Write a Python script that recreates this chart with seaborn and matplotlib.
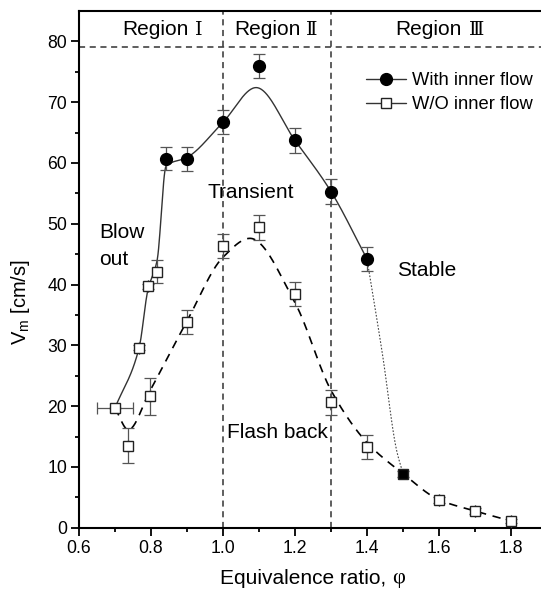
import numpy as np
import pandas as pd
import matplotlib
matplotlib.use("Agg")
import matplotlib.pyplot as plt
from matplotlib.lines import Line2D
import seaborn as sns

# ---------------- data ----------------
# filled circles: with inner flow
with_phi = [0.842, 0.90, 1.00, 1.10, 1.20, 1.30, 1.40]
with_vm = [60.7, 60.7, 66.7, 76.0, 63.7, 55.3, 44.2]
with_err = [1.9, 2.0, 2.0, 2.0, 2.0, 2.0, 1.9]

# open squares: without inner flow
wo_phi = [0.70, 0.737, 0.767, 0.791, 0.797, 0.817, 0.90, 1.00, 1.10, 1.20, 1.30, 1.40, 1.60, 1.70, 1.80]
wo_vm = [19.7, 13.5, 29.6, 39.7, 21.6, 42.1, 33.8, 46.3, 49.4, 38.5, 20.6, 13.3, 4.55, 2.75, 1.1]
wo_err = [0.0, 2.9, 0.4, 0.4, 3.0, 1.9, 2.0, 2.0, 2.0, 2.0, 2.0, 2.0, 0.5, 0.5, 0.3]
wo_xerr = [0.05, 0, 0, 0, 0, 0, 0, 0, 0, 0, 0, 0, 0, 0, 0]

# filled square (both)
both_phi = [1.50]
both_vm = [8.9]
both_err = [0.5]

# smooth fitted curves (knots)
fit_with_phi = [0.70, 0.767, 0.791, 0.817, 0.842, 0.90, 1.00, 1.092, 1.20, 1.30, 1.40]
fit_with_vm = [19.7, 29.6, 39.0, 44.0, 59.5, 60.9, 66.7, 72.4, 63.7, 55.3, 44.2]
fit_dot_phi = [1.40, 1.443, 1.482, 1.50]
fit_dot_vm = [44.2, 28.5, 12.8, 8.9]
fit_wo_phi = [0.70, 0.737, 0.797, 0.90, 1.00, 1.075, 1.20, 1.30, 1.40, 1.50, 1.60, 1.70, 1.80]
fit_wo_vm = [19.7, 16.1, 22.5, 34.0, 44.5, 47.6, 37.0, 22.6, 14.0, 8.9, 4.6, 2.75, 1.1]

region_names = ["Region", "Region", "Region"]
region_nums = ["\u2160", "\u2161", "\u2162"]
boundaries = [1.0, 1.3]
top_line = 79.0
x_ticks = [0.6, 0.8, 1.0, 1.2, 1.4, 1.6, 1.8]
y_ticks = [0, 10, 20, 30, 40, 50, 60, 70, 80]


def pchip(xk, yk, xs):
    xk = np.asarray(xk, float); yk = np.asarray(yk, float)
    h = np.diff(xk); d = np.diff(yk) / h
    n = len(xk); m = np.zeros(n)
    for k in range(1, n - 1):
        if d[k - 1] * d[k] > 0:
            w1 = 2 * h[k] + h[k - 1]; w2 = h[k] + 2 * h[k - 1]
            m[k] = (w1 + w2) / (w1 / d[k - 1] + w2 / d[k])
    m[0] = d[0]; m[-1] = d[-1]
    idx = np.clip(np.searchsorted(xk, xs) - 1, 0, n - 2)
    t = (xs - xk[idx]) / h[idx]
    h00 = 2 * t**3 - 3 * t**2 + 1; h10 = t**3 - 2 * t**2 + t
    h01 = -2 * t**3 + 3 * t**2; h11 = t**3 - t**2
    return (h00 * yk[idx] + h10 * h[idx] * m[idx] + h01 * yk[idx + 1] + h11 * h[idx] * m[idx + 1])


sns.set_style("ticks")
plt.rcParams["font.family"] = ["Liberation Sans", "DejaVu Sans"]
plt.rcParams["mathtext.fontset"] = "custom"
plt.rcParams["mathtext.rm"] = "Liberation Sans"
plt.rcParams["mathtext.it"] = "Liberation Sans"
for k in ["text.color", "axes.labelcolor", "xtick.color", "ytick.color", "axes.edgecolor"]:
    plt.rcParams[k] = "black"

fig = plt.figure(figsize=(5.41, 6.01), dpi=100)
ax = fig.add_axes([79 / 541, 1 - 527.7 / 601, 1 - 79 / 541, (527.7 - 11) / 601])

# curves
xs1 = np.linspace(fit_with_phi[0], fit_with_phi[-1], 400)
xs2 = np.linspace(fit_dot_phi[0], fit_dot_phi[-1], 80)
d1 = pd.DataFrame({"phi": xs1, "vm": pchip(fit_with_phi, fit_with_vm, xs1)})
d2 = pd.DataFrame({"phi": xs2, "vm": pchip(fit_dot_phi, fit_dot_vm, xs2)})
xs3 = np.linspace(fit_wo_phi[0], fit_wo_phi[-1], 500)
d3 = pd.DataFrame({"phi": xs3, "vm": pchip(fit_wo_phi, fit_wo_vm, xs3)})
sns.lineplot(data=d1, x="phi", y="vm", ax=ax, color="#333333", lw=1.0, sort=False)
sns.lineplot(data=d2, x="phi", y="vm", ax=ax, color="#444444", lw=0.8, ls=(0, (1.5, 1.5)), sort=False)
sns.lineplot(data=d3, x="phi", y="vm", ax=ax, color="black", lw=1.2, ls=(0, (5, 4)), sort=False)

# reference lines
for b in boundaries:
    ax.axvline(b, color="#333333", lw=1.1, ls=(0, (4, 3)), zorder=1)
ax.axhline(top_line, color="#333333", lw=1.1, ls=(0, (4, 3)), zorder=1)

# error bars
eb = dict(fmt="none", ecolor="#555555", elinewidth=0.9, capsize=4.5, capthick=0.9, zorder=3)
ax.errorbar(with_phi, with_vm, yerr=with_err, **eb)
ax.errorbar(wo_phi, wo_vm, yerr=wo_err, xerr=wo_xerr, **eb)
ax.errorbar(both_phi, both_vm, yerr=both_err, **eb)

# markers
ax.plot(wo_phi, wo_vm, ls="none", marker="s", ms=7.5, mfc="white", mec="#222222", mew=1.0, zorder=4)
ax.plot(with_phi, with_vm, ls="none", marker="o", ms=8.5, mfc="black", mec="black", zorder=5)
ax.plot(both_phi, both_vm, ls="none", marker="s", ms=7.5, mfc="black", mec="#222222", zorder=5)

ax.set_xlim(0.6, 0.6 + 462 / 360)
ax.set_ylim(0, 85)
ax.set_xticks(x_ticks)
ax.set_xticklabels([f"{v:.1f}" for v in x_ticks])
ax.set_yticks(y_ticks)
ax.set_xticks(np.arange(0.7, 1.85, 0.2), minor=True)
ax.set_yticks(np.arange(5, 85, 10), minor=True)
ax.tick_params(axis="both", which="major", direction="out", length=5.5, width=1.3, labelsize=12.7, colors="black", pad=3)
ax.tick_params(axis="both", which="minor", direction="out", length=3, width=1.3)
for s in ["left", "bottom", "top"]:
    ax.spines[s].set_linewidth(1.5)
    ax.spines[s].set_color("black")
ax.spines["right"].set_visible(False)

ax.set_xlabel("")
ax.set_ylabel("")
xl = fig.text(220 / 541, 1 - 578 / 601, "Equivalence ratio, ", fontsize=15, ha="left", va="center")
fig.canvas.draw()
bb = xl.get_window_extent(renderer=fig.canvas.get_renderer())
fig.text(bb.x1 / fig.bbox.width, 1 - 578 / 601, "\u03c6", fontsize=16, ha="left", va="center",
         family=["Liberation Serif", "DejaVu Serif"])
fig.text(21 / 541, 1 - 302 / 601, "V$_\\mathrm{m}$ [cm/s]", fontsize=14.5, rotation=90, ha="center", va="center")

# region labels
region_x = [(122, 195), (234, 306), (395, 469)]
for (xs_, xn_), nm, num in zip(region_x, region_names, region_nums):
    fig.text(xs_ / 541, 1 - 35 / 601, nm, fontsize=15, ha="left", va="baseline")
    fig.text(xn_ / 541, 1 - 35 / 601, num, fontsize=14, ha="left", va="baseline",
             family=["DejaVu Serif", "Noto Sans CJK SC", "DejaVu Sans"])

ann = dict(fontsize=15, ha="left", va="center")
fig.text(207 / 541, 1 - 193 / 601, "Transient", **ann)
fig.text(99 / 541, 1 - 232 / 601, "Blow", **ann)
fig.text(99 / 541, 1 - 259 / 601, "out", **ann)
fig.text(227 / 541, 1 - 433 / 601, "Flash back", **ann)
fig.text(397 / 541, 1 - 270 / 601, "Stable", **ann)

# legend
handles = [
    Line2D([], [], color="#333333", lw=1.0, marker="o", ms=8.5, mfc="black", mec="black"),
    Line2D([], [], color="#333333", lw=1.0, marker="s", ms=7.5, mfc="white", mec="#222222"),
]
leg = ax.legend(handles, ["With inner flow", "W/O inner flow"], loc="upper left",
                bbox_to_anchor=((366 - 79) / 462, 1 - (72 - 11) / 516.7), frameon=False,
                fontsize=13.2, handlelength=2.2, handletextpad=0.3, labelspacing=0.38,
                borderpad=0, borderaxespad=0)

fig.savefig("out.png", dpi=100)
